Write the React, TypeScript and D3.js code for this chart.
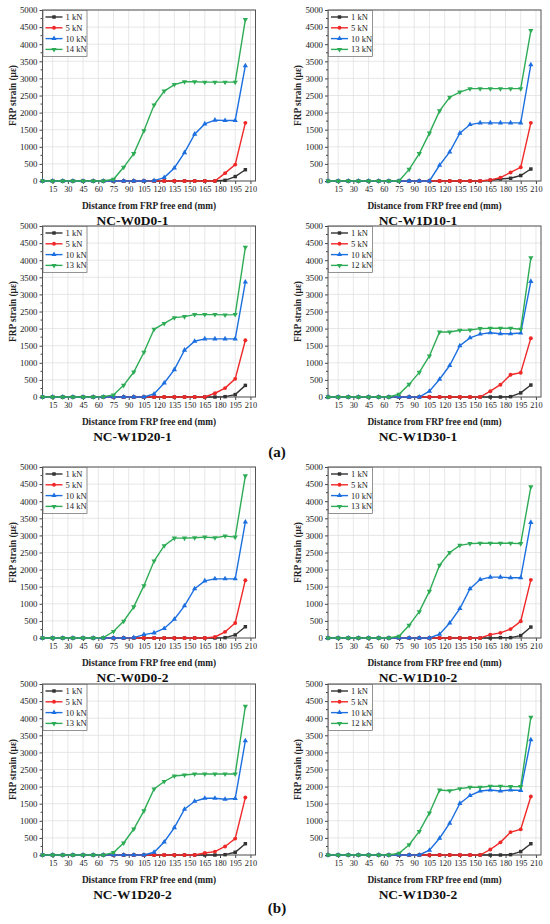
import React, { useEffect, useRef } from 'react';
import * as d3 from 'd3';

// distance of each gauge from the FRP free end (mm)
const distances = [5, 15, 25, 35, 45, 55, 65, 75, 85, 95, 105, 115, 125, 135, 145, 155, 165, 175, 185, 195, 205];
const xTicks = [15, 30, 45, 60, 75, 90, 105, 120, 135, 150, 165, 180, 195, 210];
const yTicks = [0, 500, 1000, 1500, 2000, 2500, 3000, 3500, 4000, 4500, 5000];

const loads14 = ['1 kN', '5 kN', '10 kN', '14 kN'];
const loads13 = ['1 kN', '5 kN', '10 kN', '13 kN'];
const loads12 = ['1 kN', '5 kN', '10 kN', '12 kN'];

const panelNames = ['NC-W0D0-1', 'NC-W1D10-1', 'NC-W1D20-1', 'NC-W1D30-1', 'NC-W0D0-2', 'NC-W1D10-2', 'NC-W1D20-2', 'NC-W1D30-2'];
const groupLabels = ['(a)', '(b)'];

const strainW0D0_1 = [
  [0, 0, 0, 0, 0, 0, 0, 0, 0, 0, 0, 0, 0, 0, 0, 0, 0, 0, 20, 130, 330],
  [0, 0, 0, 0, 0, 0, 0, 0, 0, 0, 0, 0, 0, 0, 0, 0, 0, 0, 230, 480, 1700],
  [0, 0, 0, 0, 0, 0, 0, 0, 0, 0, 0, 10, 100, 380, 830, 1370, 1670, 1780, 1770, 1770, 3370],
  [0, 0, 0, 0, 0, 0, 0, 50, 400, 800, 1470, 2220, 2630, 2820, 2900, 2900, 2890, 2890, 2890, 2890, 4720],
];
const strainW1D10_1 = [
  [0, 0, 0, 0, 0, 0, 0, 0, 0, 0, 0, 0, 0, 0, 0, 0, 20, 60, 80, 160, 350],
  [0, 0, 0, 0, 0, 0, 0, 0, 0, 0, 0, 0, 0, 0, 0, 0, 30, 100, 250, 400, 1700],
  [0, 0, 0, 0, 0, 0, 0, 0, 0, 0, 0, 460, 850, 1400, 1650, 1700, 1700, 1700, 1700, 1700, 3400],
  [0, 0, 0, 0, 0, 0, 0, 0, 340, 800, 1400, 2050, 2450, 2600, 2700, 2700, 2700, 2700, 2700, 2700, 4400],
];
const strainW1D20_1 = [
  [0, 0, 0, 0, 0, 0, 0, 0, 0, 0, 0, 0, 0, 0, 0, 0, 0, 0, 10, 70, 340],
  [0, 0, 0, 0, 0, 0, 0, 0, 0, 0, 0, 0, 0, 0, 0, 0, 0, 110, 260, 530, 1660],
  [0, 0, 0, 0, 0, 0, 0, 0, 0, 0, 0, 90, 410, 800, 1370, 1630, 1700, 1700, 1700, 1700, 3360],
  [0, 0, 0, 0, 0, 0, 10, 60, 340, 730, 1310, 1980, 2150, 2320, 2350, 2410, 2410, 2410, 2400, 2410, 4380],
];
const strainW1D30_1 = [
  [0, 0, 0, 0, 0, 0, 0, 0, 0, 0, 0, 0, 0, 0, 0, 0, 0, 0, 10, 120, 350],
  [0, 0, 0, 0, 0, 0, 0, 0, 0, 0, 0, 0, 0, 0, 0, 0, 170, 360, 650, 710, 1720],
  [0, 0, 0, 0, 0, 0, 0, 0, 0, 0, 170, 520, 920, 1500, 1730, 1840, 1880, 1850, 1850, 1870, 3380],
  [0, 0, 0, 0, 0, 0, 0, 80, 370, 720, 1200, 1900, 1900, 1950, 1960, 2000, 2010, 2010, 2010, 1980, 4070],
];
const strainW0D0_2 = [
  [0, 0, 0, 0, 0, 0, 0, 0, 0, 0, 0, 0, 0, 0, 0, 0, 0, 0, 10, 90, 330],
  [0, 0, 0, 0, 0, 0, 0, 0, 0, 0, 0, 0, 0, 0, 0, 0, 0, 30, 180, 440, 1690],
  [0, 0, 0, 0, 0, 0, 0, 0, 0, 10, 100, 150, 280, 550, 940, 1440, 1670, 1730, 1730, 1730, 3390],
  [0, 0, 0, 0, 0, 0, 10, 190, 490, 910, 1530, 2250, 2700, 2920, 2920, 2930, 2950, 2930, 2980, 2950, 4740],
];
const strainW1D10_2 = [
  [0, 0, 0, 0, 0, 0, 0, 0, 0, 0, 0, 0, 0, 0, 0, 0, 0, 10, 10, 70, 320],
  [0, 0, 0, 0, 0, 0, 0, 0, 0, 0, 0, 0, 0, 0, 0, 0, 100, 150, 260, 490, 1700],
  [0, 0, 0, 0, 0, 0, 0, 0, 0, 0, 0, 110, 440, 860, 1440, 1710, 1780, 1780, 1760, 1760, 3380],
  [0, 0, 0, 0, 0, 0, 0, 50, 370, 770, 1370, 2130, 2500, 2710, 2760, 2770, 2770, 2770, 2770, 2760, 4420],
];
const strainW1D20_2 = [
  [0, 0, 0, 0, 0, 0, 0, 0, 0, 0, 0, 0, 0, 0, 0, 0, 0, 0, 10, 80, 330],
  [0, 0, 0, 0, 0, 0, 0, 0, 0, 0, 0, 0, 0, 0, 0, 0, 60, 100, 250, 480, 1680],
  [0, 0, 0, 0, 0, 0, 0, 0, 0, 0, 0, 80, 380, 800, 1340, 1570, 1660, 1660, 1630, 1650, 3340],
  [0, 0, 0, 0, 0, 0, 0, 70, 350, 760, 1290, 1930, 2150, 2310, 2340, 2370, 2370, 2370, 2370, 2370, 4350],
];
const strainW1D30_2 = [
  [0, 0, 0, 0, 0, 0, 0, 0, 0, 0, 0, 0, 0, 0, 0, 0, 0, 0, 10, 100, 330],
  [0, 0, 0, 0, 0, 0, 0, 0, 0, 0, 0, 0, 0, 0, 0, 0, 160, 370, 670, 750, 1710],
  [0, 0, 0, 0, 0, 0, 0, 0, 0, 0, 140, 490, 930, 1510, 1740, 1870, 1900, 1870, 1900, 1890, 3370],
  [0, 0, 0, 0, 0, 0, 0, 50, 300, 690, 1230, 1900, 1880, 1940, 1980, 1980, 2010, 2010, 2000, 2000, 4030],
];

const panelStrains = [strainW0D0_1, strainW1D10_1, strainW1D20_1, strainW1D30_1, strainW0D0_2, strainW1D10_2, strainW1D20_2, strainW1D30_2];
const panelLoads = [loads14, loads13, loads13, loads12, loads14, loads13, loads13, loads12];

const colors = ['#333333', '#f02828', '#1c6fe0', '#2eac55'];
const symbols = [d3.symbolSquare, d3.symbolCircle, d3.symbolTriangle, d3.symbolTriangle];
const rotations = [0, 0, 0, 180];

const W = 550;
const H = 924;
const colX = [42.5, 328];
const rowY = [10, 226, 467, 684];
const plotW = 213;
const plotH = 171;
const serif = '"Liberation Serif", "Times New Roman", serif';

const App: React.FC = () => {
  const svgRef = useRef<SVGSVGElement>(null);

  useEffect(() => {
    document.body.style.margin = '0';
    if (!svgRef.current) return;
    const svg = d3.select(svgRef.current);
    svg.selectAll('*').remove();

    svg.append('rect').attr('width', W).attr('height', H).attr('fill', 'white');

    panelNames.forEach((name, p) => {
      const x0 = colX[p % 2];
      const y0 = rowY[Math.floor(p / 2)];
      const x = d3.scaleLinear().domain([5, 215]).range([x0, x0 + plotW]);
      const y = d3.scaleLinear().domain([0, 5000]).range([y0 + plotH, y0]);
      const g = svg.append('g');

      // grid
      g.selectAll('.vgrid')
        .data(xTicks)
        .enter().append('line')
        .attr('x1', d => x(d)).attr('x2', d => x(d))
        .attr('y1', y0).attr('y2', y0 + plotH)
        .attr('stroke', '#dcdcdc').attr('stroke-width', 0.7);
      g.selectAll('.hgrid')
        .data(yTicks)
        .enter().append('line')
        .attr('x1', x0).attr('x2', x0 + plotW)
        .attr('y1', d => y(d)).attr('y2', d => y(d))
        .attr('stroke', '#dcdcdc').attr('stroke-width', 0.7);

      // axes
      const xAxis = d3.axisBottom(x).tickValues(xTicks).tickFormat(d3.format('d')).tickSize(3).tickPadding(2.5);
      const ax = g.append('g').attr('transform', `translate(0,${y0 + plotH})`).call(xAxis);
      const yAxis = d3.axisLeft(y).tickValues(yTicks).tickFormat(d3.format('d')).tickSize(3).tickPadding(2);
      const ay = g.append('g').attr('transform', `translate(${x0},0)`).call(yAxis);
      [ax, ay].forEach((a, k) => {
        a.select('.domain').remove();
        a.selectAll('line').attr('stroke', '#444');
        a.selectAll('text')
          .style('font-family', serif)
          .style('font-size', k === 0 ? '8.3px' : '8.8px')
          .attr('fill', '#222');
      });
      // minor y ticks
      g.selectAll('.ymin')
        .data(yTicks.slice(0, -1))
        .enter().append('line')
        .attr('x1', x0 - 2).attr('x2', x0)
        .attr('y1', d => y(d + 250)).attr('y2', d => y(d + 250))
        .attr('stroke', '#444');

      g.append('rect')
        .attr('x', x0).attr('y', y0).attr('width', plotW).attr('height', plotH)
        .attr('fill', 'none').attr('stroke', '#555').attr('stroke-width', 1);

      // series
      const line = d3.line<number>()
        .x((_, i) => x(distances[i]))
        .y(d => y(d));
      panelStrains[p].forEach((vals, s) => {
        g.append('path')
          .attr('d', line(vals))
          .attr('fill', 'none')
          .attr('stroke', colors[s])
          .attr('stroke-width', 1.4);
        const sym = d3.symbol().type(symbols[s]).size(12);
        g.selectAll(`.m${s}`)
          .data(vals)
          .enter().append('path')
          .attr('d', sym)
          .attr('transform', (d, i) => `translate(${x(distances[i])},${y(d)}) rotate(${rotations[s]})`)
          .attr('fill', colors[s]);
      });

      // legend
      const lg = g.append('g').attr('transform', `translate(${x0},${y0})`);
      lg.append('rect')
        .attr('x', 0.5).attr('y', 0.5).attr('width', 44).attr('height', 46)
        .attr('fill', 'white').attr('stroke', '#666').attr('stroke-width', 0.7);
      panelLoads[p].forEach((lab, s) => {
        const ly = 7 + s * 10.8;
        lg.append('line')
          .attr('x1', 3).attr('x2', 20).attr('y1', ly).attr('y2', ly)
          .attr('stroke', colors[s]).attr('stroke-width', 1.4);
        lg.append('path')
          .attr('d', d3.symbol().type(symbols[s]).size(12)())
          .attr('transform', `translate(11.5,${ly}) rotate(${rotations[s]})`)
          .attr('fill', colors[s]);
        lg.append('text')
          .attr('x', 23).attr('y', ly)
          .attr('dy', '0.35em')
          .style('font-family', serif)
          .style('font-size', '8.5px')
          .attr('fill', '#222')
          .text(lab);
      });

      // axis titles
      g.append('text')
        .attr('x', x0 + plotW / 2)
        .attr('y', y0 + plotH + 25)
        .attr('dy', '0.35em')
        .attr('text-anchor', 'middle')
        .style('font-family', serif)
        .style('font-size', '9.3px')
        .style('font-weight', 'bold')
        .attr('fill', '#222')
        .text('Distance from FRP free end (mm)');
      g.append('text')
        .attr('transform', `translate(${x0 - 30},${y0 + plotH / 2}) rotate(-90)`)
        .attr('dy', '0.35em')
        .attr('text-anchor', 'middle')
        .style('font-family', serif)
        .style('font-size', '9.3px')
        .style('font-weight', 'bold')
        .attr('fill', '#222')
        .text('FRP strain (με)');

      // panel title
      g.append('text')
        .attr('x', x0 + 90)
        .attr('y', y0 + plotH + 39.5)
        .attr('dy', '0.35em')
        .attr('text-anchor', 'middle')
        .style('font-family', serif)
        .style('font-size', '13.5px')
        .style('font-weight', 'bold')
        .attr('fill', '#111')
        .text(name);
    });

    // group labels
    [452, 908].forEach((gy, i) => {
      svg.append('text')
        .attr('x', 277)
        .attr('y', gy)
        .attr('dy', '0.35em')
        .attr('text-anchor', 'middle')
        .style('font-family', serif)
        .style('font-size', '15px')
        .style('font-weight', 'bold')
        .attr('fill', '#111')
        .text(groupLabels[i]);
    });
  }, []);

  return <svg ref={svgRef} width={W} height={H} style={{ display: 'block' }} />;
};

export default App;
